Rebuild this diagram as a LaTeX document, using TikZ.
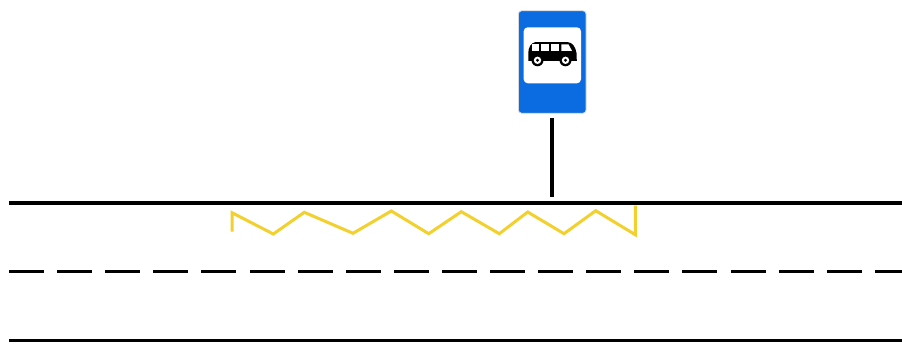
\documentclass[tikz,border=0pt]{standalone}
\definecolor{signblue}{HTML}{0B6BE0}
\definecolor{zigyellow}{HTML}{F2D02E}
\tikzset{
  busline/.style={line width=3pt,zigyellow,line join=miter},
}
\begin{document}
\begin{tikzpicture}[x=1pt,y=-1pt]
\useasboundingbox[fill=white] (0,0) rectangle (902,343);
% road
\draw[line width=3.4pt] (9,202.9) -- (902,202.9);
\draw[line width=3pt] (9,340.3) -- (902,340.3);
\draw[line width=3.2pt,dash pattern=on 35pt off 13.1pt] (9,271.2) -- (902,271.2);
% zigzag
\draw[busline] (232,231.7) -- (232,212.7) -- (273.3,234) -- (304.3,212.3) -- (353,233.3) -- (391.3,211) -- (428.7,233.7) -- (461.3,211.7) -- (499.3,233.7) -- (527.7,212) -- (564,233.7) -- (595.7,210.7) -- (635.3,234.7) -- (635.3,205.7);
% post
\draw[line width=4.2pt] (551.6,118) -- (551.6,196.5);
% sign
\draw[fill=signblue,draw=black!15!white,line width=.8pt,rounded corners=3pt] (518.5,10.8) rectangle (586,113.2);
\fill[white,rounded corners=4pt] (523.7,27.3) rectangle (581,83.3);
% bus body
\fill[black] (528.3,60.8) -- (528.3,53) .. controls (528.3,47.5) and (531,43) .. (535,42.2)
  -- (568,42.2) .. controls (572.5,42.5) and (575.5,47) .. (576.5,53) -- (576.8,60.8) -- cycle;
% windows
\fill[white] (532,44.4) rectangle (539.4,50.8);
\fill[white] (541,44.4) rectangle (549,50.8);
\fill[white] (551,44.4) rectangle (559.4,50.8);
\fill[white] (561.3,44.4) -- (568.5,44.4) -- (572,50.8) -- (561.3,50.8) -- cycle;
% wheels
\foreach \wx in {537.5,565.5}{
  \fill[black] (\wx,60.3) circle (6pt);
  \fill[white] (\wx,60.3) circle (3.7pt);
  \fill[black] (\wx,60.3) circle (1.6pt);
}
\end{tikzpicture}
\end{document}
